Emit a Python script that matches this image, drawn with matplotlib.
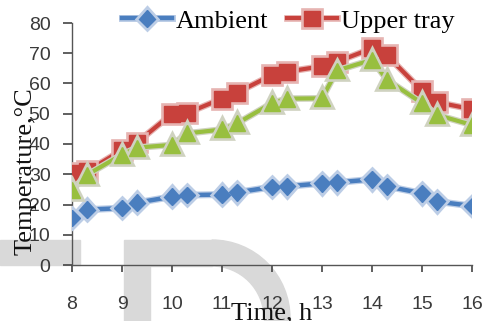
import matplotlib
matplotlib.use("Agg")
import matplotlib.pyplot as plt
import matplotlib.patches as mpatches
import matplotlib.patheffects as pe
from matplotlib.transforms import IdentityTransform

# data
times = [8, 8.3, 9, 9.3, 10, 10.3, 11, 11.3, 12, 12.3, 13, 13.3, 14, 14.3, 15, 15.3, 16]
ambient = [15.5, 18.3, 18.8, 20.6, 22.6, 23.1, 23.3, 24.0, 25.8, 26.0, 27.0, 27.3, 28.3, 26.0, 23.7, 21.0, 19.5]
upper = [30.3, 31.0, 38.0, 40.5, 50.0, 50.2, 55.0, 57.0, 62.8, 63.9, 65.7, 67.2, 71.6, 69.3, 57.6, 53.8, 51.5]
lower = [24.8, 29.8, 36.5, 38.8, 39.7, 43.5, 44.8, 46.8, 53.5, 55.0, 55.1, 64.3, 67.8, 61.2, 53.5, 49.6, 46.3]
xticks = [8, 9, 10, 11, 12, 13, 14, 15, 16]
yticks = [0, 10, 20, 30, 40, 50, 60, 70, 80]

W, H = 487, 321
fig = plt.figure(figsize=(W / 100, H / 100), dpi=100)

# grey watermark behind the chart (pixel coords, origin bottom-left)
wm = '#d9d9d9'
ident = IdentityTransform()
for (x0, y0, w, h) in [(0, 56, 80, 25), (124, 0, 26, 81), (150, 55, 62, 26), (264, 0, 26, 3)]:
    fig.patches.append(mpatches.Rectangle((x0, y0), w, h, color=wm, transform=ident, zorder=-5))
fig.patches.append(mpatches.Wedge((212, 3), 78, 0, 90, width=26, color=wm, transform=ident, zorder=-5))

ax = fig.add_axes([72 / W, 56 / H, 400 / W, 242 / H])
ax.patch.set_alpha(0)

def halo(c, lw):
    return [pe.Stroke(linewidth=lw + 1.8, foreground=c), pe.Normal()]

la, = ax.plot(times, ambient, color='#4a7ebf', lw=3.2, marker='D', ms=8.5,
              label='Ambient', zorder=3, path_effects=halo('#bccde6', 3.2))
lu, = ax.plot(times, upper, color='#c8413c', lw=3.0, marker='s', ms=11.5,
              label='Upper tray', zorder=3, path_effects=halo('#e6b4b2', 3.0))
ll, = ax.plot(times, lower, color='#98bf3f', lw=3.0, marker='^', ms=11.5,
              label='Lower tray', zorder=4, path_effects=halo('#cfd2c0', 3.0))

ax.set_xlim(8, 16)
ax.set_ylim(0, 80)
ax.set_xticks(xticks)
ax.set_yticks(yticks)
for s in ['top', 'right']:
    ax.spines[s].set_visible(False)
for s in ['left', 'bottom']:
    ax.spines[s].set_color('#555555')
    ax.spines[s].set_linewidth(1.0)

ax.tick_params(axis='x', direction='out', length=5, width=1.2, color='#444444',
               pad=17, labelcolor='#3a3a3a')
ax.tick_params(axis='y', direction='out', length=6.5, width=1.2, color='#444444',
               pad=9, labelcolor='#3a3a3a')
for lab in ax.get_xticklabels() + ax.get_yticklabels():
    lab.set_fontfamily('Liberation Sans')
    lab.set_fontsize(14)

serif = 'Liberation Serif'
fig.text(26 / W, 150 / H, 'Temperature,\u00b0C', rotation=90, ha='center', va='center',
         fontsize=19, family=serif, color='#111111')
fig.text(272 / W, 19 / H, 'Time, h', ha='center', va='top',
         fontsize=19, family=serif, color='#111111')

fig.legend(handles=[la, lu], loc='center left', bbox_to_anchor=(122 / W, 300 / H),
           bbox_transform=fig.transFigure, ncol=2, frameon=False, borderpad=0,
           borderaxespad=0, handlelength=1.9, handletextpad=0.15, columnspacing=0.7,
           prop={'family': serif, 'size': 19})

fig.savefig('out.png', dpi=100)
